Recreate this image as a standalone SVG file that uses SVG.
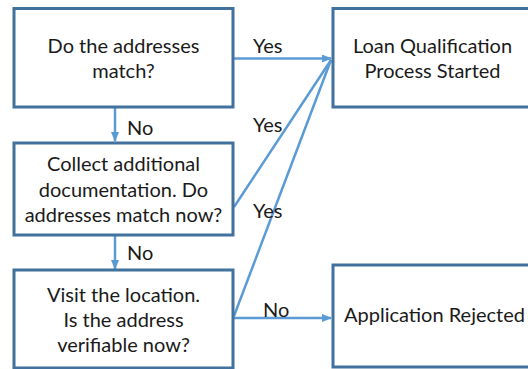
<svg xmlns="http://www.w3.org/2000/svg" width="528" height="369" viewBox="0 0 528 369">
<defs>
<style>
.box{fill:#fff;stroke:#41719C;stroke-width:3}
.t{font-family:Lato,"Liberation Sans",sans-serif;font-size:20px;fill:#1a1a1a;text-anchor:middle}
.l{font-family:Lato,"Liberation Sans",sans-serif;font-size:20px;fill:#1a1a1a}
.c{stroke:#5B9BD5;stroke-width:2.5;fill:none}
</style>
<marker id="ah" markerWidth="10" markerHeight="8" refX="9" refY="4" orient="auto" markerUnits="userSpaceOnUse">
<path d="M0,0 L10,4 L0,8 Z" fill="#5B9BD5"/>
</marker>
</defs>
<rect width="528" height="369" fill="#fff"/>
<g id="connectors">
<line class="c" x1="233" y1="58.5" x2="331" y2="58.5" marker-end="url(#ah)"/>
<line class="c" x1="234" y1="207" x2="331" y2="60"/>
<line class="c" x1="234" y1="316" x2="331" y2="60"/>
<line class="c" x1="234" y1="318" x2="331" y2="318" marker-end="url(#ah)"/>
<line class="c" x1="115" y1="107" x2="115" y2="141" marker-end="url(#ah)"/>
<line class="c" x1="115" y1="235" x2="115" y2="269" marker-end="url(#ah)"/>
<text class="l" x="253" y="53">Yes</text>
<text class="l" x="253" y="132">Yes</text>
<text class="l" x="253" y="218">Yes</text>
<text class="l" x="263" y="317">No</text>
<text class="l" x="127" y="135">No</text>
<text class="l" x="127" y="260">No</text>
</g>
<g id="n1">
<rect class="box" x="14" y="8.5" width="219" height="98.5"/>
<text class="t" x="123.5" y="53">Do the addresses</text>
<text class="t" x="123.5" y="78">match?</text>
</g>
<g id="n2">
<rect class="box" x="14" y="143" width="219" height="92"/>
<text class="t" x="123.5" y="171">Collect additional</text>
<text class="t" x="123.5" y="197">documentation. Do</text>
<text class="t" x="123.5" y="222">addresses match now?</text>
</g>
<g id="n3">
<rect class="box" x="14" y="270" width="219" height="98"/>
<text class="t" x="123.5" y="302">Visit the location.</text>
<text class="t" x="123.5" y="327">Is the address</text>
<text class="t" x="123.5" y="352">verifiable now?</text>
</g>
<g id="n4">
<rect class="box" x="333" y="8.5" width="230" height="98.5"/>
<text class="t" x="432.5" y="53">Loan Qualification</text>
<text class="t" x="432.5" y="78">Process Started</text>
</g>
<g id="n5">
<rect class="box" x="333" y="265" width="230" height="102"/>
<text class="t" x="434.5" y="322">Application Rejected</text>
</g>
</svg>
